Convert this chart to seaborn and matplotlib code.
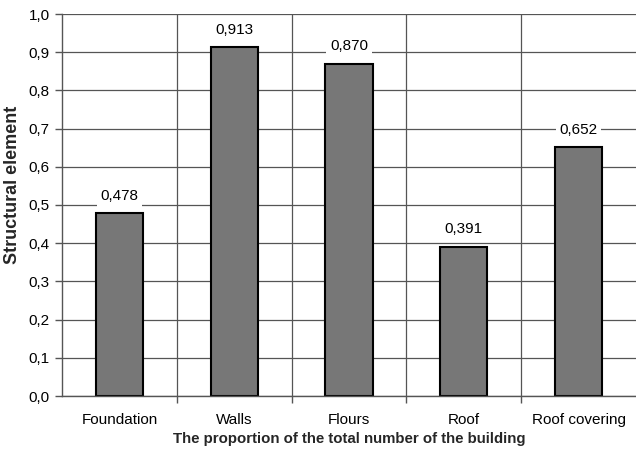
import matplotlib
matplotlib.use("Agg")
import matplotlib.pyplot as plt
import seaborn as sns
import pandas as pd
import numpy as np
from matplotlib.ticker import MultipleLocator, FuncFormatter, FixedLocator

categories = ["Foundation", "Walls", "Flours", "Roof", "Roof covering"]
values = [0.478, 0.913, 0.870, 0.391, 0.652]
value_labels = ["0,478", "0,913", "0,870", "0,391", "0,652"]

sns.set_theme(style="white")
plt.rcParams['font.family'] = ['Liberation Sans', 'DejaVu Sans']

df = pd.DataFrame({"cat": categories, "val": values})

fig = plt.figure(figsize=(6.36, 4.51), dpi=100)
ax = fig.add_axes([62/636, 55/451, 1 - 62/636, (396-14)/451])

sns.barplot(data=df, x="cat", y="val", order=categories, color="#777777",
            edgecolor="black", linewidth=1.5, width=0.41, saturation=1, ax=ax)

ax.set_xlim(-0.5, len(categories) - 0.5)
ax.set_ylim(0, 1.0)
ax.yaxis.set_major_locator(MultipleLocator(0.1))
ax.yaxis.set_major_formatter(FuncFormatter(lambda v, p: f"{v:.1f}".replace(".", ",")))
ax.xaxis.set_minor_locator(FixedLocator(np.arange(0.5, len(categories) - 0.5, 1.0)))

ax.grid(False)
ax.yaxis.grid(True, which="major", color="#555555", linewidth=0.9)
ax.xaxis.grid(True, which="minor", color="#555555", linewidth=0.9)
ax.set_axisbelow(True)

for s in ["top", "right"]:
    ax.spines[s].set_visible(False)
for s in ["left", "bottom"]:
    ax.spines[s].set_visible(True)
    ax.spines[s].set_color("#555555")
    ax.spines[s].set_linewidth(1.0)

ax.tick_params(axis="y", which="major", left=True, length=5, width=1, color="#555555",
               labelsize=11, pad=4, labelcolor="black")
ax.tick_params(axis="x", which="major", bottom=False, length=0, labelsize=11, pad=12,
               labelcolor="black")
ax.tick_params(axis="x", which="minor", bottom=True, length=5, width=1, color="#555555")

for i, (v, lab) in enumerate(zip(values, value_labels)):
    ax.text(i, v + 0.045, lab, ha="center", va="center", fontsize=11, color="black",
            bbox=dict(facecolor="white", edgecolor="none", pad=2.5), zorder=5)

ax.set_xlabel("The proportion of the total number of the building", fontsize=10.8,
              fontweight="bold", labelpad=4)
ax.set_ylabel("Structural element", fontsize=13, fontweight="bold")
ax.yaxis.set_label_coords(-0.072, 0.552)

fig.savefig("out.png", dpi=100)
